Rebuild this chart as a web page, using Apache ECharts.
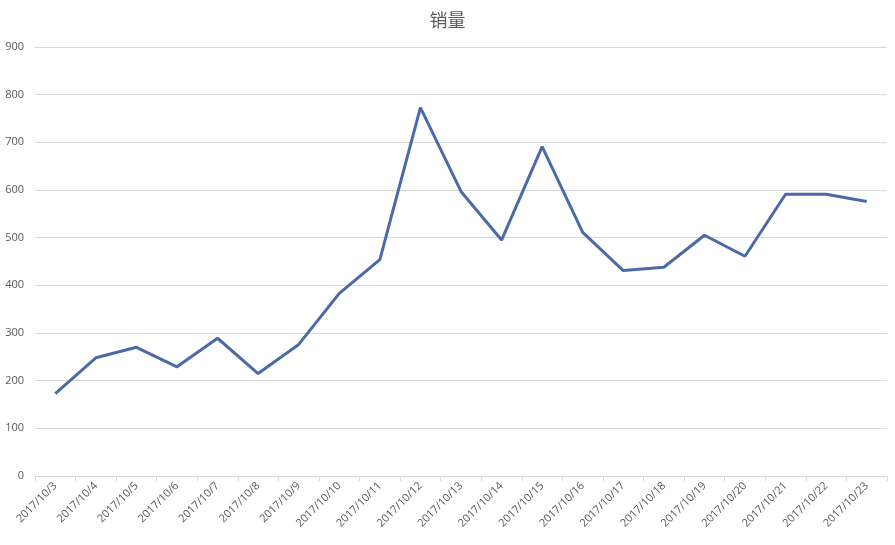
<!DOCTYPE html>
<html><head><meta charset="utf-8">
<script src="https://cdn.jsdelivr.net/npm/echarts@6/dist/echarts.min.js"></script>
<style>html,body{margin:0;padding:0;background:#fff}#c{width:895px;height:545px}</style>
</head><body><div id="c"></div>
<script>
const categories = ['2017/10/3','2017/10/4','2017/10/5','2017/10/6','2017/10/7','2017/10/8','2017/10/9','2017/10/10','2017/10/11','2017/10/12','2017/10/13','2017/10/14','2017/10/15','2017/10/16','2017/10/17','2017/10/18','2017/10/19','2017/10/20','2017/10/21','2017/10/22','2017/10/23'];
const sales = [173,248,270,229,289,215,276,383,454,773,597,495,691,511,431,438,505,461,591,591,576];
const chart = echarts.init(document.getElementById('c'));
chart.setOption({
  backgroundColor:'#fff',
  animation:false,
  title:{text:'销量',left:'center',top:6,textStyle:{fontFamily:'Noto Sans CJK SC',fontSize:18,fontWeight:'normal',color:'#595959'}},
  grid:{left:35,right:8,top:47,bottom:69},
  xAxis:{type:'category',data:categories,boundaryGap:true,
    axisLine:{lineStyle:{color:'#d9d9d9'}},
    axisTick:{show:true,length:5,lineStyle:{color:'#d9d9d9'}},
    axisLabel:{rotate:45,fontSize:11,color:'#595959',fontFamily:'Open Sans',margin:8,interval:0}},
  yAxis:{type:'value',min:0,max:900,interval:100,
    axisLine:{show:false},axisTick:{show:false},
    splitLine:{lineStyle:{color:'#d9d9d9'}},
    axisLabel:{fontSize:11,color:'#595959',fontFamily:'Open Sans',margin:11}},
  series:[{type:'line',data:sales,showSymbol:false,symbol:'none',
    lineStyle:{color:'#4a6ba8',width:3},itemStyle:{color:'#4a6ba8'}}]
});
</script></body></html>
